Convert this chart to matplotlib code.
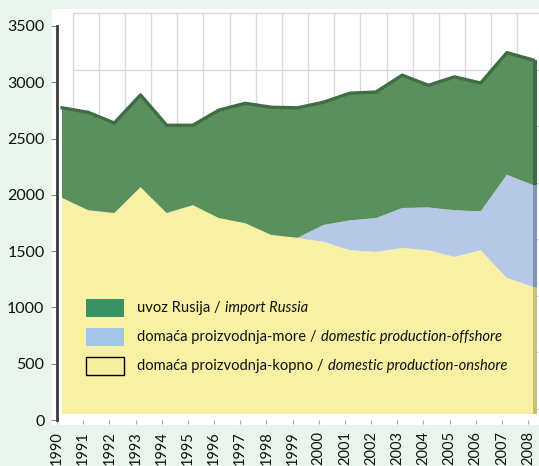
import matplotlib
matplotlib.use("Agg")
import matplotlib.pyplot as plt
from matplotlib.patches import Rectangle
from matplotlib.offsetbox import (AnchoredOffsetbox, DrawingArea, HPacker,
                                  TextArea, VPacker)

plt.rcParams['font.family'] = ['Lato', 'DejaVu Sans']

# ---------------- data ----------------
years = list(range(1990, 2009))
onshore = [1920, 1810, 1785, 2015, 1785, 1855, 1740, 1695, 1590, 1565,
           1530, 1455, 1440, 1475, 1455, 1395, 1455, 1210, 1130]
offshore = [0, 0, 0, 0, 0, 0, 0, 0, 0, 0,
            150, 265, 300, 355, 380, 415, 345, 915, 905]
import_russia = [800, 870, 800, 820, 780, 710, 960, 1065, 1135, 1155,
                 1090, 1130, 1120, 1180, 1085, 1185, 1140, 1085, 1110]
yticks = [0, 500, 1000, 1500, 2000, 2500, 3000, 3500]
labels_hr = ["uvoz Rusija /", "domaća proizvodnja-more /",
             "domaća proizvodnja-kopno /"]
labels_en = ["import Russia", "domestic production-offshore",
             "domestic production-onshore"]

totals = [a + b + c for a, b, c in zip(onshore, offshore, import_russia)]

# ---------------- style ----------------
W, H = 539, 466
BG = '#e9f4ec'
C_ON, C_OFF, C_IMP = '#f8f0a2', '#b5c9e6', '#5a905e'
C_ON_S, C_OFF_S, C_IMP_S = '#cbbf72', '#7f93b8', '#3d6b43'
LEG_IMP, LEG_OFF, LEG_ON = '#3a9164', '#a3c6ea', '#f7efa0'
GRID = '#d9d9d9'
YEAR_PX = 26.17

fig = plt.figure(figsize=(W / 100, H / 100), dpi=100)
fig.patch.set_facecolor(BG)


def px_axes(left, top, right, bottom, **kw):
    return fig.add_axes([left / W, 1 - bottom / H, (right - left) / W,
                         (bottom - top) / H], **kw)


# back wall (3D effect)
axb = px_axes(52, 9, 539, 425)
axb.set_facecolor('white')
s = (409 - 13) / 3500
axb.set_ylim(-(425 - 409) / s, 3500 + (13 - 9) / s)
xl = 1990 - (72.5 - 52) / YEAR_PX
xr = 1990 + (539 - 72.5) / YEAR_PX
axb.set_xlim(xl, xr)
axb.hlines(yticks, 1990, xr, color=GRID, lw=1)
axb.vlines(years[:-1], 0, 3500, color=GRID, lw=1)
for sp in axb.spines.values():
    sp.set_visible(False)
axb.set_xticks([])
axb.set_yticks([])

# data axes
axd = px_axes(57, 20, 537, 414)
axd.patch.set_alpha(0)
axd.set_xlim(1990 - 5 / YEAR_PX, 2008 + 4 / YEAR_PX)
axd.set_ylim(0, 3500)
axd.stackplot(years, onshore, offshore, import_russia,
              colors=[C_ON, C_OFF, C_IMP], lw=0)
axd.plot(years, totals, color='#3f6e45', lw=2.4, solid_joinstyle='round')
# right side faces
xs = [years[-1], years[-1] + 4 / YEAR_PX]
axd.stackplot(xs, [onshore[-1]] * 2, [offshore[-1]] * 2,
              [import_russia[-1]] * 2, colors=[C_ON_S, C_OFF_S, C_IMP_S],
              lw=0)
for sp in axd.spines.values():
    sp.set_visible(False)
axd.set_xticks([])
axd.set_yticks([])

# front axes with labels
axf = px_axes(57, 26, 537, 420)
axf.patch.set_alpha(0)
axf.set_ylim(0, 3500)
axf.set_xlim(1990, 1990 + 480 / YEAR_PX)
for k, sp in axf.spines.items():
    sp.set_visible(k == 'left')
axf.spines['left'].set_color('#3a3a3a')
axf.spines['left'].set_linewidth(2)
axf.set_yticks(yticks)
axf.set_yticklabels([str(v) for v in yticks])
axf.tick_params(axis='y', length=4, color='#888888', pad=5,
                labelsize=11.5, labelcolor='#111111')
axf.set_xticks(years)
axf.set_xticklabels([str(y) for y in years], rotation=90)
axf.tick_params(axis='x', length=3, color='#aaaaaa', pad=5,
                labelsize=10.5, labelcolor='#111111')

# legend
rows = []
for fc, ec, hr, en in zip([LEG_IMP, LEG_OFF, LEG_ON],
                          ['none', 'none', 'black'], labels_hr, labels_en):
    da = DrawingArea(27, 13, 0, 0)
    da.add_artist(Rectangle((0, 0), 27, 13, fc=fc, ec=ec, lw=1))
    t1 = TextArea(hr, textprops=dict(fontsize=10.6, color='#111111'))
    t2 = TextArea(en, textprops=dict(fontsize=10.6, color='#111111',
                                     style='italic'))
    rows.append(HPacker(children=[da, HPacker(children=[t1, t2], sep=3,
                                              pad=0, align='baseline')],
                        sep=10, pad=0, align='center'))
vp = VPacker(children=rows, sep=8, pad=0, align='left')
ab = AnchoredOffsetbox(loc='upper left', child=vp, pad=0, borderpad=0,
                       frameon=False, bbox_to_anchor=(86 / W, 1 - 299 / H),
                       bbox_transform=fig.transFigure)
axd.add_artist(ab)

fig.savefig('out.png', dpi=100, facecolor=BG)
